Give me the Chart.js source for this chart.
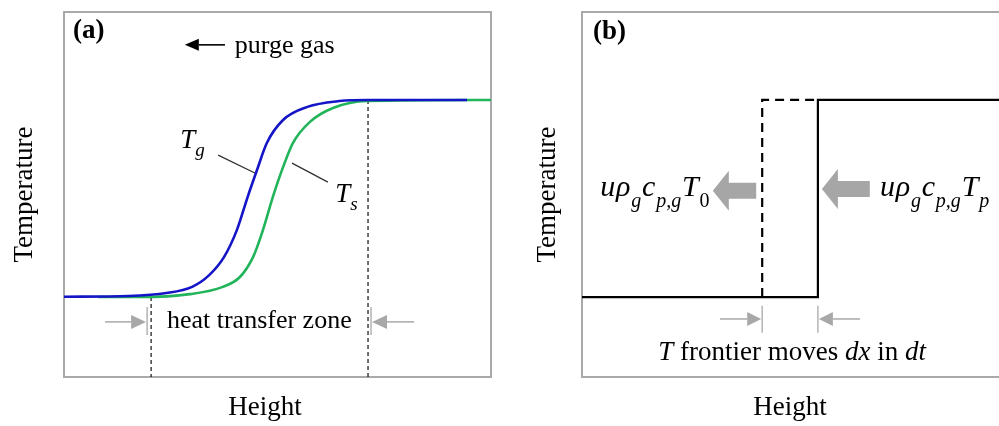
<!DOCTYPE html>
<html>
<head>
<meta charset="utf-8">
<script src="https://cdn.jsdelivr.net/npm/chart.js@4.4.1/dist/chart.umd.min.js"></script>
<style>
  html, body { margin: 0; padding: 0; width: 999px; height: 426px; overflow: hidden; background: #fff; }
  .panel { position: absolute; top: 0; }
  #wrapA { left: 0; }
  #wrapB { left: 500px; }
</style>
</head>
<body>
<div class="panel" id="wrapA"><canvas id="panelA" width="500" height="426"></canvas></div>
<div class="panel" id="wrapB"><canvas id="panelB" width="510" height="426"></canvas></div>
<script>
// (a) gas and solid temperature along the bed height (both axes 0-100, arbitrary units)
const gasHeight = [0, 15, 24, 30, 34, 37.5, 40.5, 43, 45.2, 47.5, 51.3, 57, 64.5, 71, 94.4];
const gasTemp = [22, 22.2, 23, 24.7, 27.9, 32.9, 40.3, 49.3, 56.7, 64.1, 70.4, 74, 75.6, 75.9, 75.9];
const solidHeight = [8, 17.8, 29.5, 37.2, 41.2, 44.3, 46.6, 48.9, 51.3, 53.6, 57.6, 63, 71, 100];
const solidTemp = [21.9, 21.9, 22.7, 24.7, 27.4, 32.9, 40.3, 49.3, 57.5, 64.1, 69.9, 73.7, 75.6, 75.9];
const zoneStart = 20.4;
const zoneEnd = 71.2;
const tLow = 21.9;
const tHigh = 75.9;

// (b) sharp temperature front, now and one step dt earlier
const frontHeight = [0, 55.9, 55.9, 100];
const frontTemp = [tLow, tLow, tHigh, tHigh];
const prevFrontHeight = [42.7, 42.7, 55.9];
const prevFrontTemp = [tLow, tHigh, tHigh];

const serif = "'Liberation Serif', 'Times New Roman', serif";
const boxColor = '#a9a9a9';
const arrowGray = '#a6a6a6';

function pts(xs, ys) {
  return xs.map((x, i) => ({ x: x, y: ys[i] }));
}

// text made of pieces: [text, italic, subscript]
function richText(ctx, parts, x, y, align, size, subSize, drop, gap) {
  const fontOf = p => (p[1] ? 'italic ' : '') + (p[2] ? subSize : size) + 'px ' + serif;
  let w = 0;
  parts.forEach(p => { ctx.font = fontOf(p); w += ctx.measureText(p[0]).width + gap; });
  w -= gap;
  let cx = align === 'right' ? x - w : align === 'center' ? x - w / 2 : x;
  ctx.textAlign = 'left';
  ctx.textBaseline = 'alphabetic';
  parts.forEach(p => {
    ctx.font = fontOf(p);
    ctx.fillText(p[0], cx, y + (p[2] ? drop : 0));
    cx += ctx.measureText(p[0]).width + gap;
  });
}

function thinArrow(ctx, tailX, tipX, y, color, width, headLen, headHalf) {
  const dir = Math.sign(tipX - tailX);
  ctx.save();
  ctx.strokeStyle = color;
  ctx.fillStyle = color;
  ctx.lineWidth = width;
  ctx.beginPath();
  ctx.moveTo(tailX, y);
  ctx.lineTo(tipX - dir * headLen, y);
  ctx.stroke();
  ctx.beginPath();
  ctx.moveTo(tipX, y);
  ctx.lineTo(tipX - dir * headLen, y - headHalf);
  ctx.lineTo(tipX - dir * headLen, y + headHalf);
  ctx.closePath();
  ctx.fill();
  ctx.restore();
}

function blockArrow(ctx, tailX, tipX, y) {
  const dir = Math.sign(tipX - tailX);
  const base = tipX - dir * 16;
  ctx.save();
  ctx.fillStyle = arrowGray;
  ctx.beginPath();
  ctx.moveTo(tipX, y);
  ctx.lineTo(base, y - 20);
  ctx.lineTo(base, y - 8);
  ctx.lineTo(tailX, y - 8);
  ctx.lineTo(tailX, y + 8);
  ctx.lineTo(base, y + 8);
  ctx.lineTo(base, y + 20);
  ctx.closePath();
  ctx.fill();
  ctx.restore();
}

function vTick(ctx, x, y1, y2) {
  ctx.save();
  ctx.strokeStyle = '#b4b4b4';
  ctx.lineWidth = 1.5;
  ctx.beginPath();
  ctx.moveTo(x, y1);
  ctx.lineTo(x, y2);
  ctx.stroke();
  ctx.restore();
}

function plainText(ctx, text, x, y, align, font) {
  ctx.font = font;
  ctx.textAlign = align;
  ctx.textBaseline = 'alphabetic';
  ctx.fillText(text, x, y);
}

function axisTitles(ctx, area, xCenter, yTitleX) {
  ctx.fillStyle = '#000';
  plainText(ctx, 'Height', xCenter, area.bottom + 38, 'center', '27px ' + serif);
  ctx.save();
  ctx.translate(yTitleX, (area.top + area.bottom) / 2);
  ctx.rotate(-Math.PI / 2);
  plainText(ctx, 'Temperature', 0, 0, 'center', '27px ' + serif);
  ctx.restore();
}

const boxPlugin = {
  id: 'box',
  beforeDatasetsDraw(chart) {
    const a = chart.chartArea;
    const ctx = chart.ctx;
    ctx.save();
    ctx.strokeStyle = boxColor;
    ctx.lineWidth = 2;
    ctx.strokeRect(a.left, a.top, a.right - a.left, a.bottom - a.top);
    ctx.restore();
  }
};

const notesA = {
  id: 'notesA',
  afterDraw(chart) {
    const ctx = chart.ctx;
    const X = v => chart.scales.x.getPixelForValue(v);
    const Y = v => chart.scales.y.getPixelForValue(v);
    ctx.save();
    ctx.fillStyle = '#000';
    plainText(ctx, '(a)', X(2.1), Y(92.9), 'left', 'bold 27px ' + serif);

    // purge gas direction
    thinArrow(ctx, X(37.7), X(28.3), Y(91), '#000', 1.6, 14, 6);
    plainText(ctx, 'purge gas', X(40), Y(88.8), 'left', '26px ' + serif);

    // curve labels with leader lines
    ctx.strokeStyle = '#333';
    ctx.lineWidth = 1.3;
    ctx.beginPath();
    ctx.moveTo(X(36.1), Y(60.8)); ctx.lineTo(X(44.7), Y(55.9));
    ctx.moveTo(X(53.4), Y(58.6)); ctx.lineTo(X(61.8), Y(53.4));
    ctx.stroke();
    richText(ctx, [['T', true, false], ['g', true, true]], X(27.2), Y(62.7), 'left', 27, 19, 8, 0);
    richText(ctx, [['T', true, false], ['s', true, true]], X(63.5), Y(47.9), 'left', 27, 19, 8, 0);

    // heat transfer zone
    const ay = Y(15.1);
    vTick(ctx, X(zoneStart) - 4, Y(19.2), Y(11.5));
    vTick(ctx, X(zoneEnd) + 3, Y(19.2), Y(11.5));
    thinArrow(ctx, X(9.6), X(zoneStart) - 5, ay, '#a8a8a8', 1.5, 15, 7);
    thinArrow(ctx, X(82), X(zoneEnd) + 4, ay, '#a8a8a8', 1.5, 15, 7);
    plainText(ctx, 'heat transfer zone', X(24.1), Y(13.4), 'left', '26px ' + serif);

    axisTitles(ctx, chart.chartArea, X(47.1), 32);
    ctx.restore();
  }
};

const notesB = {
  id: 'notesB',
  afterDraw(chart) {
    const ctx = chart.ctx;
    const X = v => chart.scales.x.getPixelForValue(v);
    const Y = v => chart.scales.y.getPixelForValue(v);
    const xOld = prevFrontHeight[0];
    const xNew = frontHeight[1];
    ctx.save();
    ctx.fillStyle = '#000';
    plainText(ctx, '(b)', X(2.6), Y(92.6), 'left', 'bold 27px ' + serif);

    // enthalpy flows in and out
    blockArrow(ctx, X(xOld) - 6, X(31), Y(51));
    blockArrow(ctx, X(68.2), X(xNew) + 4, Y(51.5));
    ctx.fillStyle = '#000';
    richText(ctx, [['u', true, false], ['\u03c1', true, false], ['g', true, true], ['c', true, false],
      ['p,g', true, true], ['T', true, false], ['0', false, true]],
      X(30.2), Y(49.5), 'right', 30, 20, 11, 0.8);
    richText(ctx, [['u', true, false], ['\u03c1', true, false], ['g', true, true], ['c', true, false],
      ['p,g', true, true], ['T', true, false], ['p', true, true]],
      X(70.6), Y(49.5), 'left', 30, 20, 11, 0.8);

    // front displacement
    const ay = Y(15.9);
    vTick(ctx, X(xOld), Y(19.5), Y(12.1));
    vTick(ctx, X(xNew), Y(19.5), Y(12.1));
    thinArrow(ctx, X(32.7), X(xOld) - 1, ay, '#a8a8a8', 1.5, 14, 7);
    thinArrow(ctx, X(65.9), X(xNew) + 1, ay, '#a8a8a8', 1.5, 14, 7);
    richText(ctx, [['T', true, false], [' frontier moves ', false, false], ['dx', true, false],
      [' in ', false, false], ['dt', true, false]], X(49.8), Y(4.7), 'center', 27, 27, 0, 0);

    axisTitles(ctx, chart.chartArea, X(49.3), 55);
    ctx.restore();
  }
};

function baseOptions(pad) {
  return {
    responsive: false,
    animation: false,
    devicePixelRatio: 1,
    layout: { padding: pad },
    plugins: { legend: { display: false }, tooltip: { enabled: false } },
    elements: { point: { radius: 0 } },
    scales: {
      x: { type: 'linear', min: 0, max: 100, display: false },
      y: { type: 'linear', min: 0, max: 100, display: false }
    }
  };
}

new Chart(document.getElementById('panelA').getContext('2d'), {
  type: 'line',
  data: {
    datasets: [
      {
        label: 'Tg',
        data: pts(gasHeight, gasTemp),
        borderColor: '#1515c8',
        borderWidth: 2.6,
        cubicInterpolationMode: 'monotone'
      },
      {
        label: 'Ts',
        data: pts(solidHeight, solidTemp),
        borderColor: '#22b45a',
        borderWidth: 2.6,
        cubicInterpolationMode: 'monotone'
      },
      {
        label: 'zone start',
        data: pts([zoneStart, zoneStart], [tLow, 0]),
        borderColor: '#111',
        borderWidth: 1.2,
        borderDash: [4, 3]
      },
      {
        label: 'zone end',
        data: pts([zoneEnd, zoneEnd], [tHigh, 0]),
        borderColor: '#111',
        borderWidth: 1.2,
        borderDash: [4, 3]
      }
    ]
  },
  options: baseOptions({ left: 64, top: 12, right: 9, bottom: 49 }),
  plugins: [boxPlugin, notesA]
});

new Chart(document.getElementById('panelB').getContext('2d'), {
  type: 'line',
  data: {
    datasets: [
      {
        label: 'front at t',
        data: pts(frontHeight, frontTemp),
        borderColor: '#000',
        borderWidth: 2.2,
        tension: 0
      },
      {
        label: 'front at t - dt',
        data: pts(prevFrontHeight, prevFrontTemp),
        borderColor: '#000',
        borderWidth: 2.2,
        borderDash: [9, 6],
        tension: 0
      }
    ]
  },
  options: baseOptions({ left: 82, top: 12, right: 6, bottom: 49 }),
  plugins: [boxPlugin, notesB]
});
</script>
</body>
</html>
